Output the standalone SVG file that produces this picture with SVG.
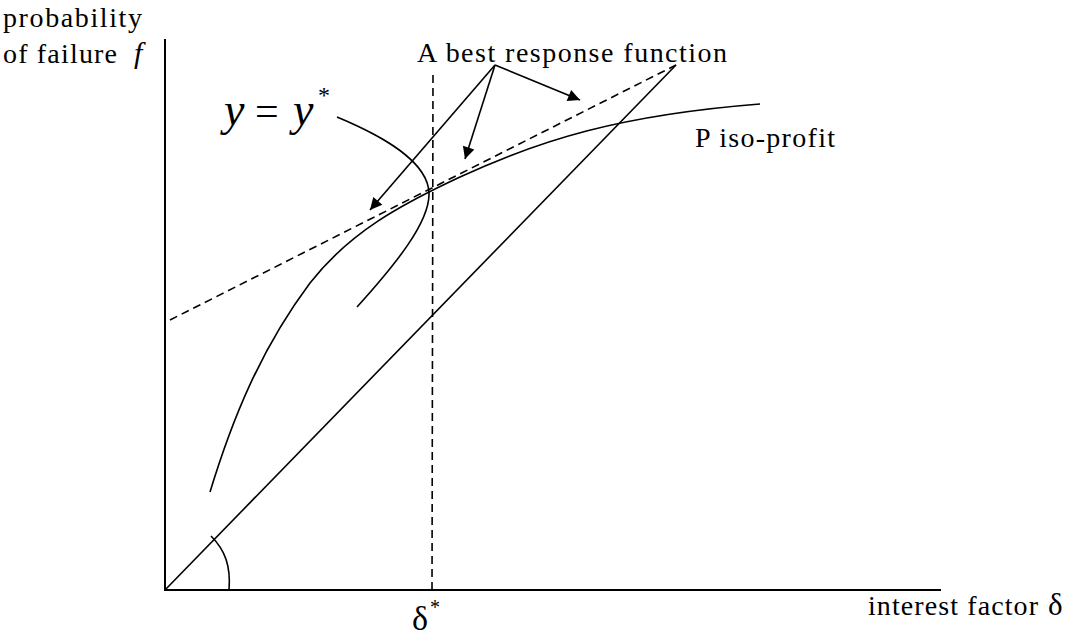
<svg xmlns="http://www.w3.org/2000/svg" width="1073" height="637" viewBox="0 0 1073 637">
<style>
.t{font-family:"Liberation Serif","Times New Roman",serif;font-size:28px;fill:#000}
.i{font-style:italic}
.ln{fill:none;stroke:#000;stroke-width:1.6}
.ax{fill:none;stroke:#000;stroke-width:2}
.ds{fill:none;stroke:#000;stroke-width:1.6;stroke-dasharray:8 5}
</style>
<defs>
<marker id="ah" viewBox="0 0 10 10" refX="10" refY="5" markerWidth="16" markerHeight="12" markerUnits="userSpaceOnUse" orient="auto">
<path d="M0,0 L10,5 L0,10 z" fill="#000"/>
</marker>
</defs>
<rect width="1073" height="637" fill="#fff"/>
<g id="axes">
<line class="ax" x1="165" y1="39" x2="165" y2="590"/>
<line class="ax" x1="164" y1="590" x2="941" y2="590"/>
</g>
<g id="diagonal">
<line class="ln" x1="165" y1="590" x2="676" y2="65"/>
<path class="ln" d="M211,536 C225,550 231,566 229,590"/>
</g>
<g id="delta-star-line">
<line class="ds" x1="433" y1="75" x2="432" y2="590"/>
</g>
<g id="best-response">
<line class="ds" x1="170" y1="320" x2="676" y2="65"/>
</g>
<g id="iso-profit">
<path class="ln" d="M210,492 C232,420 260,350 310,283 C350,232 400,205 460,177 C540,140 620,115 760,104"/>
</g>
<g id="y-star-curve">
<path class="ln" d="M337,117 C385,137 428,162 429,193 C430,222 395,265 357,307"/>
</g>
<g id="connectors">
<line class="ln" x1="495" y1="65" x2="370" y2="210" marker-end="url(#ah)"/>
<line class="ln" x1="495" y1="65" x2="465" y2="159" marker-end="url(#ah)"/>
<line class="ln" x1="495" y1="65" x2="580" y2="100" marker-end="url(#ah)"/>
</g>
<g id="labels">
<text class="t" x="3" y="27" textLength="139" lengthAdjust="spacing">probability</text>
<text class="t" x="3" y="63" textLength="114" lengthAdjust="spacing">of failure</text>
<text class="t i" x="134" y="63" style="font-size:30px">f</text>
<text class="t" x="417" y="62" textLength="310" lengthAdjust="spacing">A best response function</text>
<text class="t" x="695" y="147" textLength="140" lengthAdjust="spacing">P iso-profit</text>
<text class="t" x="868" y="615" textLength="170" lengthAdjust="spacing">interest factor</text>
<text class="t" x="1048" y="615" style="font-size:31px">δ</text>
<text class="t" x="412" y="630" style="font-size:34px">δ</text>
<text class="t" x="430" y="614" style="font-size:20px">*</text>
<text class="t i" x="224" y="125" style="font-size:46px">y</text>
<text class="t" x="255" y="125" style="font-size:42px">=</text>
<text class="t i" x="293" y="125" style="font-size:46px">y</text>
<text class="t" x="318" y="103" style="font-size:24px">*</text>
</g>
</svg>
